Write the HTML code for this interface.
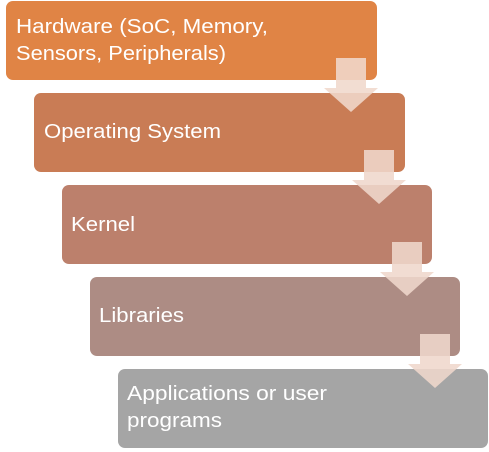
<!DOCTYPE html>
<html><head><meta charset="utf-8"><style>
html,body{margin:0;padding:0;background:#fff;}
svg{display:block;}
text{font-family:"Liberation Sans",sans-serif;font-size:20px;fill:#fff;}
</style></head><body>
<svg width="489" height="452" viewBox="0 0 489 452" xmlns="http://www.w3.org/2000/svg">
<rect x="6" y="1" width="371" height="79" rx="7" fill="#E08445"/>
<rect x="34" y="93" width="371" height="79" rx="7" fill="#C97C55"/>
<rect x="62" y="185" width="370" height="79" rx="7" fill="#BC806C"/>
<rect x="90" y="277" width="370" height="79" rx="7" fill="#AD8C84"/>
<rect x="118" y="369" width="370" height="79" rx="7" fill="#A5A5A5"/>
<g fill="#F0D8CC" opacity="0.88">
<polygon points="336,58 366,58 366,88 378,88 351,112 324,88 336,88"/>
<polygon points="364,150 394,150 394,180 406,180 379,204 352,180 364,180"/>
<polygon points="392,242 422,242 422,272 434,272 407,296 380,272 392,272"/>
<polygon points="420,334 450,334 450,364 462,364 435,388 408,364 420,364"/>
</g>
<text x="16" y="33" textLength="252" lengthAdjust="spacingAndGlyphs">Hardware (SoC, Memory,</text>
<text x="16" y="60" textLength="210" lengthAdjust="spacingAndGlyphs">Sensors, Peripherals)</text>
<text x="44" y="138" textLength="177" lengthAdjust="spacingAndGlyphs">Operating System</text>
<text x="71" y="231" textLength="64" lengthAdjust="spacingAndGlyphs">Kernel</text>
<text x="99" y="322" textLength="85" lengthAdjust="spacingAndGlyphs">Libraries</text>
<text x="127" y="400" textLength="200" lengthAdjust="spacingAndGlyphs">Applications or user</text>
<text x="127" y="427" textLength="95" lengthAdjust="spacingAndGlyphs">programs</text>
</svg>
</body></html>
